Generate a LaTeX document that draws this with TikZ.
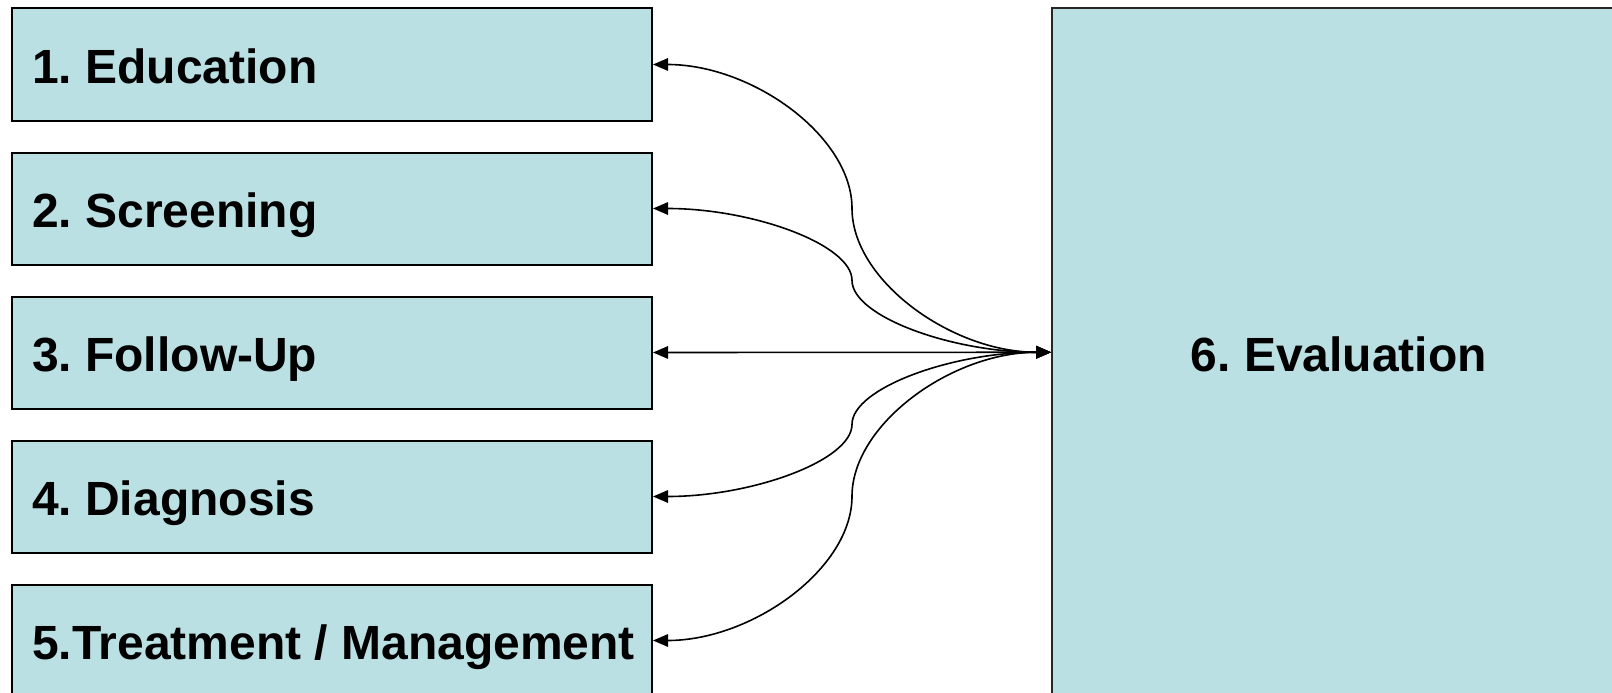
\documentclass[tikz,border=0pt]{standalone}
\usepackage{fontspec}
\setmainfont{Liberation Sans}
\usetikzlibrary{arrows.meta,calc}
\definecolor{boxfill}{RGB}{187,224,227}
\frenchspacing
\tikzset{
  leftbox/.style={draw=black, line width=2pt, fill=boxfill, anchor=north west,
    minimum width=640pt, minimum height=112pt, inner xsep=20pt, inner ysep=0pt,
    text height=38.5pt, text depth=0pt,
    font=\fontsize{48}{56}\selectfont\bfseries},
  evalbox/.style={draw=black!85, line width=1.5pt, fill=boxfill, anchor=north west,
    minimum width=574pt, minimum height=688pt, inner sep=0pt,
    text height=38.5pt, text depth=0pt,
    font=\fontsize{48}{56}\selectfont\bfseries},
  conn/.style={line width=1.6pt, {Triangle[length=15pt,width=12.5pt]}-{Triangle[length=15pt,width=12.5pt]}}
}
\begin{document}
\begin{tikzpicture}[x=1pt,y=-1pt]
\useasboundingbox (0,0) rectangle (1612,693);
\clip (0,0) rectangle (1612,693);
\node[leftbox] (b1) at (11,7.5) {\makebox[600pt][l]{1. Education}};
\node[leftbox] (b2) at (11,151.5) {\makebox[600pt][l]{2. Screening}};
\node[leftbox] (b3) at (11,295.5) {\makebox[600pt][l]{3. Follow-Up}};
\node[leftbox] (b4) at (11,439.5) {\makebox[600pt][l]{4. Diagnosis}};
\node[leftbox] (b5) at (11,583.5) {\makebox[600pt][l]{5.Treatment / Management}};
\node[evalbox] (ev) at (1051,7.5) {6. Evaluation};
\draw[conn] (b3.east) -- (ev.west);
\foreach \i in {1,2,4,5}{
  \draw[conn] let \p1=(b\i.east), \p2=(ev.west) in
    (\p1) .. controls ({\x1+0.25*(\x2-\x1)},\y1) and ({0.5*(\x1+\x2)},{\y1+0.25*(\y2-\y1)})
    .. ({0.5*(\x1+\x2)},{0.5*(\y1+\y2)})
    .. controls ({0.5*(\x1+\x2)},{\y1+0.75*(\y2-\y1)}) and ({\x1+0.75*(\x2-\x1)},\y2)
    .. (\p2);
}
\end{tikzpicture}
\end{document}
